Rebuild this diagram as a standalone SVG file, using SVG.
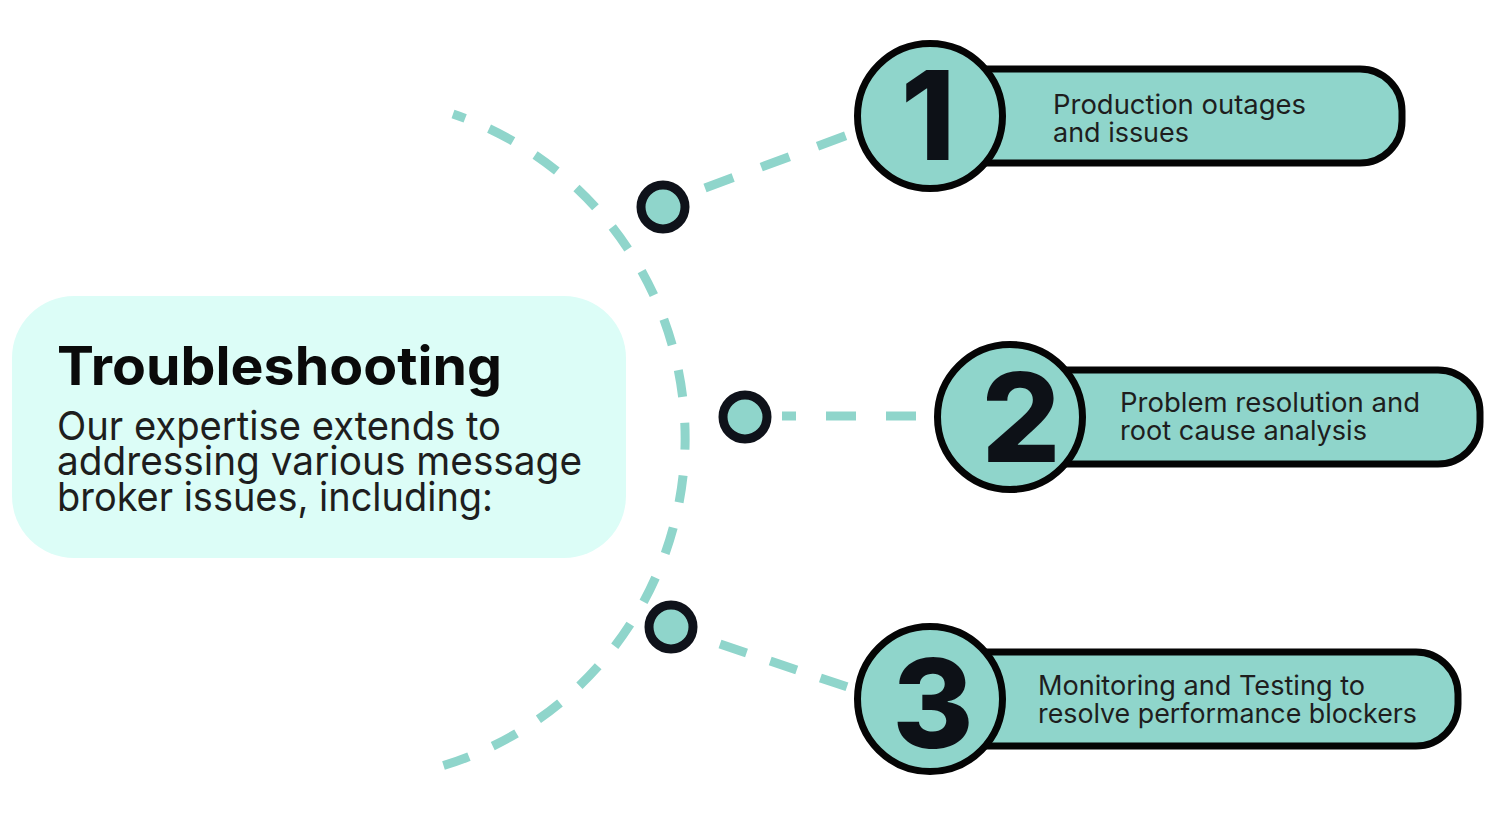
<svg xmlns="http://www.w3.org/2000/svg" width="1486" height="816" viewBox="0 0 1486 816">
<style>
.dash{fill:none;stroke:#8fd5cb;stroke-width:9}
.pill{fill:#8fd5cb;stroke:#050505;stroke-width:7}
.num{font-family:Inter,"Liberation Sans",sans-serif;font-weight:800;font-size:124px;fill:#0d1117;text-anchor:middle}
.item{font-family:Inter,"Liberation Sans",sans-serif;font-size:27px;fill:#1e1e1e}
.dot{fill:#8fd5cb;stroke:#0f121a;stroke-width:9}
</style>
<rect width="1486" height="816" fill="#ffffff"/>
<g id="connectors">
<path class="dash" d="M 453 114 A 342.5 342.5 0 0 1 442 766" stroke-dasharray="27 26" stroke-dashoffset="14"/>
<path class="dash" d="M 705 188 L 880 123" stroke-dasharray="30 30"/>
<path class="dash" d="M 782 416 L 940 416" stroke-dasharray="14 30 30 30 30 30"/>
<path class="dash" d="M 720 644 L 880 698" stroke-dasharray="28 25"/>
</g>
<g id="intro">
<rect x="12" y="296" width="614" height="262" rx="62" fill="#dcfdf7"/>
<text x="57" y="385" font-family="Inter,'Liberation Sans',sans-serif" font-weight="700" font-size="54" fill="#0a0a0a" textLength="445" lengthAdjust="spacingAndGlyphs">Troubleshooting</text>
<g font-family="Inter,'Liberation Sans',sans-serif" font-size="40" fill="#1e1e1e">
<text x="57" y="440" textLength="444" lengthAdjust="spacingAndGlyphs">Our expertise extends to</text>
<text x="57" y="475" textLength="525" lengthAdjust="spacingAndGlyphs">addressing various message</text>
<text x="57" y="511" textLength="436" lengthAdjust="spacingAndGlyphs">broker issues, including:</text>
</g>
</g>
<g id="item1">
<rect class="pill" x="930" y="69" width="472" height="94" rx="42"/>
<circle class="pill" cx="930" cy="116" r="72.5"/>
<text class="num" x="928" y="160">1</text>
<text class="item" x="1053" y="114" textLength="253" lengthAdjust="spacingAndGlyphs">Production outages</text>
<text class="item" x="1053" y="142" textLength="136" lengthAdjust="spacingAndGlyphs">and issues</text>
</g>
<g id="item2">
<rect class="pill" x="1010" y="370" width="470" height="94" rx="42"/>
<circle class="pill" cx="1010" cy="417" r="72.5"/>
<text class="num" x="1021" y="462">2</text>
<text class="item" x="1120" y="412" textLength="300" lengthAdjust="spacingAndGlyphs">Problem resolution and</text>
<text class="item" x="1120" y="440" textLength="247" lengthAdjust="spacingAndGlyphs">root cause analysis</text>
</g>
<g id="item3">
<rect class="pill" x="930" y="652" width="528" height="94" rx="42"/>
<circle class="pill" cx="930" cy="699" r="72.5"/>
<text class="num" x="933" y="748">3</text>
<text class="item" x="1038" y="695" textLength="327" lengthAdjust="spacingAndGlyphs">Monitoring and Testing to</text>
<text class="item" x="1038" y="723" textLength="379" lengthAdjust="spacingAndGlyphs">resolve performance blockers</text>
</g>
<g id="dot1"><circle class="dot" cx="663" cy="207" r="22"/></g>
<g id="dot2"><circle class="dot" cx="745" cy="417" r="22"/></g>
<g id="dot3"><circle class="dot" cx="671" cy="627" r="22"/></g>
</svg>
